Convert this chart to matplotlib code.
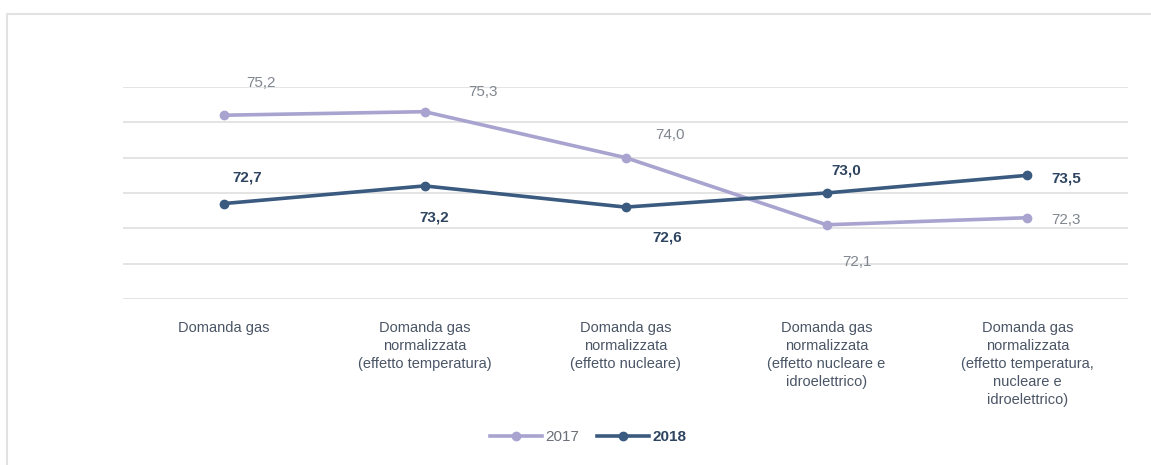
import matplotlib.pyplot as plt
from matplotlib.patches import Rectangle

plt.rcParams['font.family'] = ['Liberation Sans', 'DejaVu Sans']

categories = ['Domanda gas',
              'Domanda gas\nnormalizzata\n(effetto temperatura)',
              'Domanda gas\nnormalizzata\n(effetto nucleare)',
              'Domanda gas\nnormalizzata\n(effetto nucleare e\nidroelettrico)',
              'Domanda gas\nnormalizzata\n(effetto temperatura,\nnucleare e\nidroelettrico)']
y2017 = [75.2, 75.3, 74.0, 72.1, 72.3]
y2018 = [72.7, 73.2, 72.6, 73.0, 73.5]
labels2017 = ['75,2', '75,3', '74,0', '72,1', '72,3']
labels2018 = ['72,7', '73,2', '72,6', '73,0', '73,5']

c17 = '#a8a3cf'
c18 = '#3a5a7f'

fig = plt.figure(figsize=(11.51, 4.65), dpi=100)
ax = fig.add_axes([0.107, 0.357, 0.873, 0.456])

x = list(range(len(categories)))
ax.plot(x, y2017, color=c17, lw=2.6, marker='o', ms=6, label='2017', zorder=3)
ax.plot(x, y2018, color=c18, lw=2.6, marker='o', ms=6, label='2018', zorder=3)

# label offsets in points (dx, dy)
off17 = [(27, 23), (42, 14), (32, 16), (22, -27), (28, -2)]
off18 = [(17, 19), (7, -23), (30, -22), (14, 16), (28, -2)]
for i in x:
    dx, dy = off17[i]
    ax.annotate(labels2017[i], (i, y2017[i]), xytext=(dx, dy), textcoords='offset points',
                ha='center', va='center', fontsize=11, color='#80868f')
    dx, dy = off18[i]
    ax.annotate(labels2018[i], (i, y2018[i]), xytext=(dx, dy), textcoords='offset points',
                ha='center', va='center', fontsize=11, color='#2e4460', fontweight='bold')

ax.set_xlim(-0.5, 4.5)
ax.set_ylim(70, 76)
ax.set_yticks([70, 71, 72, 73, 74, 75, 76])
ax.grid(axis='y', color='#e4e4e4', lw=1.4)
ax.set_axisbelow(True)
ax.set_yticklabels([])
ax.tick_params(axis='y', length=0)
ax.set_xticks(x)
ax.set_xticklabels(categories, fontsize=10.5, color='#4a5566', linespacing=1.35, va='top')
ax.tick_params(axis='x', length=0, pad=16)
for s in ax.spines.values():
    s.set_visible(False)

ax.legend(loc='center', bbox_to_anchor=(588 / 1151, 1 - 437 / 465), bbox_transform=fig.transFigure,
          ncol=2, frameon=False, fontsize=11, handlelength=3.4, columnspacing=1.2, handletextpad=0.2)
leg = ax.get_legend()
leg.get_texts()[0].set_color('#6a6f78')
leg.get_texts()[1].set_fontweight('bold')
leg.get_texts()[1].set_color('#2e4460')

fig.patches.append(Rectangle((7 / 1151, -0.01), 1.02, 1 - 14 / 465 + 0.01, transform=fig.transFigure,
                             fill=False, edgecolor='#e2e2e2', lw=1.5))

fig.savefig('out.png', dpi=100)
